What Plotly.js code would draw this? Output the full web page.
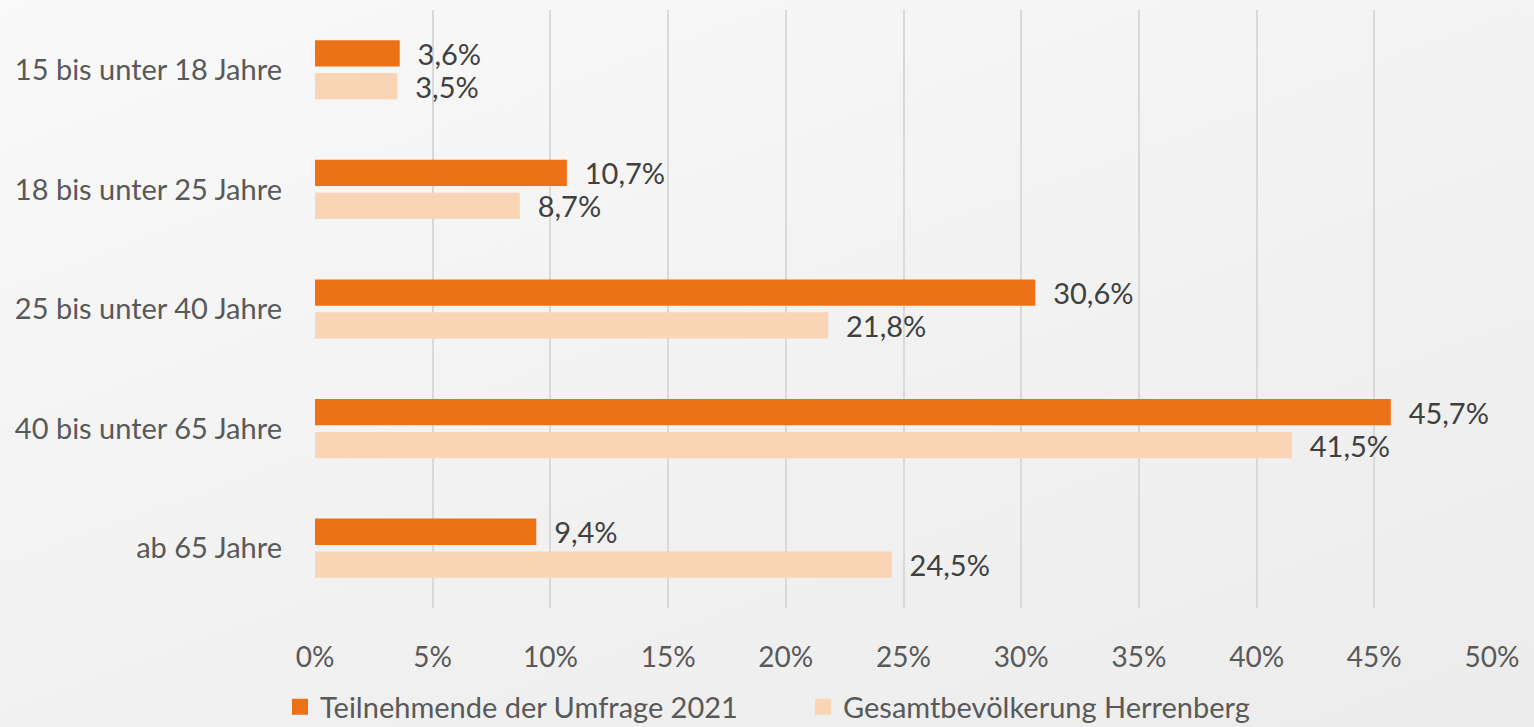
<!DOCTYPE html>
<html>
<head>
<meta charset="utf-8">
<script src="https://cdn.plot.ly/plotly-3.0.1.min.js"></script>
<style>
html,body{margin:0;padding:0;width:1534px;height:727px;overflow:hidden;
background:linear-gradient(160deg,#f9f9f9 0%,#f2f2f2 50%,#ececec 100%);}
#chart{width:1534px;height:727px;}
</style>
</head>
<body>
<div id="chart"></div>
<script>
const categories = ["15 bis unter 18 Jahre","18 bis unter 25 Jahre","25 bis unter 40 Jahre","40 bis unter 65 Jahre","ab 65 Jahre"];
const seriesNames = ["Teilnehmende der Umfrage 2021","Gesamtbevölkerung Herrenberg"];
const seriesColors = ['#ED7117', '#F9D4B5'];
const umfrage2021 = [3.6, 10.7, 30.6, 45.7, 9.4];
const gesamtbevoelkerung = [3.5, 8.7, 21.8, 41.5, 24.5];
const tickVals = [0,5,10,15,20,25,30,35,40,45,50];

const font = "Lato, 'Open Sans', sans-serif";
const pad = "\u00a0\u00a0";
function mk(vals, name, color){
  return {
    type:'bar', orientation:'h', x:vals, y:categories, name:name,
    marker:{color:color}, showlegend:false,
    text: vals.map(v => pad + v.toFixed(1).replace('.', ',') + '%'),
    textposition:'outside', cliponaxis:false, constraintext:'none',
    textfont:{family:font, size:29, color:'#404040'},
    hoverinfo:'skip'
  };
}
function legendEntry(name, color){
  return {type:'scatter', mode:'markers', x:[null], y:[null], name:name,
    marker:{symbol:'square', size:18, color:color}, showlegend:true, hoverinfo:'skip'};
}
const data = [
  mk(umfrage2021, seriesNames[0], seriesColors[0]),
  mk(gesamtbevoelkerung, seriesNames[1], seriesColors[1]),
  legendEntry(seriesNames[0], seriesColors[0]),
  legendEntry(seriesNames[1], seriesColors[1])
];
const layout = {
  width:1534, height:727,
  paper_bgcolor:'rgba(0,0,0,0)', plot_bgcolor:'rgba(0,0,0,0)',
  margin:{l:315, r:42, t:10, b:119},
  barmode:'group', bargap:0.45, bargroupgap:0.2,
  separators:',.',
  font:{family:font, size:29, color:'#595959'},
  xaxis:{range:[0,50], tickvals:tickVals, ticktext:tickVals.map(v=>v+'%'),
    showgrid:true, gridcolor:'#d9d9d9', gridwidth:2, zeroline:false,
    showline:false, ticks:'', ticklabelstandoff:30,
    tickfont:{family:font, size:28, color:'#595959'}, fixedrange:true},
  yaxis:{autorange:'reversed', showgrid:false, zeroline:false, showline:false,
    ticks:'', ticklabelstandoff:32,
    tickfont:{family:font, size:29, color:'#595959'}, fixedrange:true},
  showlegend:true,
  legend:{orientation:'h', xref:'container', yref:'container', x:280/1534, xanchor:'left', y:(727-707)/727, yanchor:'middle',
    font:{family:font, size:29, color:'#595959'}, entrywidth:478, entrywidthmode:'pixels',
    itemwidth:30, bgcolor:'rgba(0,0,0,0)'}
};
Plotly.newPlot('chart', data, layout, {displayModeBar:false, staticPlot:true});
</script>
</body>
</html>
